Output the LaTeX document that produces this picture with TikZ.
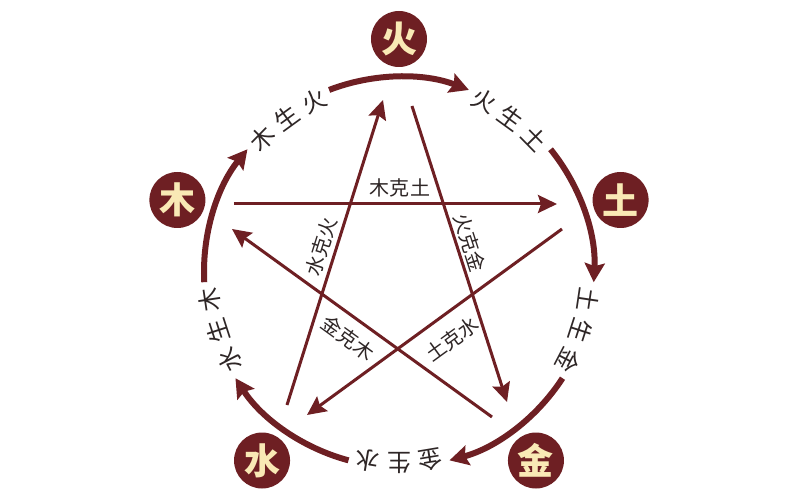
\documentclass[tikz,border=0pt]{standalone}
\usepackage{fontspec}
\newfontfamily\cjk{Noto Sans CJK SC}
\usetikzlibrary{calc}
\usetikzlibrary{arrows.meta}
\definecolor{wxred}{HTML}{6E1F23}
\definecolor{wxcream}{HTML}{F9E9B5}
\definecolor{wxtext}{HTML}{2E2626}
\tikzstyle{elnode} = [circle, fill=wxred, minimum size=56pt, inner sep=0pt, text=wxcream, font=\cjk\bfseries\fontsize{36}{36}\selectfont]
\tikzstyle{shengarc} = [draw=wxred, line width=6pt, -{Stealth[length=19pt, width=20pt, inset=3pt]}]
\tikzstyle{keline} = [draw=wxred, line width=3pt, -{Stealth[length=19pt, width=18pt, inset=3pt]}]
\tikzstyle{shenglabel} = [text=wxtext, inner sep=0pt, font=\cjk\fontsize{24}{24}\selectfont]
\tikzstyle{kelabel} = [text=wxtext, inner sep=0pt, font=\cjk\fontsize{20}{20}\selectfont]

\begin{document}
\begin{tikzpicture}[x=1pt, y=1pt]
    \path[use as bounding box, fill=white] (-399,-228) rectangle (409,272);

    \node[elnode] (huo) at (90:233) {火};
    \node[elnode] (tu) at (18:233) {土};
    \node[elnode] (jin) at (-54:233) {金};
    \node[elnode] (shui) at (-126:233) {水};
    \node[elnode] (mu) at (162:233) {木};

    \foreach \name/\e in {mu/162, huo/90, tu/18, jin/-54, shui/-126} {
        \coordinate (\name_arc) at ({\e+21}:195);
        \draw[shengarc] (\name_arc) arc[start angle={\e+21}, end angle={\e-21}, radius=195];
    }
    \foreach \name/\c/\from/\to in {mu/126/木/火, huo/54/火/土, tu/-18/土/金, jin/-90/金/水, shui/198/水/木} {
        \node[shenglabel, rotate={\c+9.5-90}] (\name_sa) at ({\c+9.5}:191) {\from};
        \node[shenglabel, rotate={\c-90}] (\name_sb) at (\c:191) {生};
        \node[shenglabel, rotate={\c-9.5-90}] (\name_sc) at ({\c-9.5}:191) {\to};
    }

    \coordinate (mu_ke_a) at (-165,68);
    \coordinate (mu_ke_b) at (158,68);
    \coordinate (huo_ke_a) at (13,166);
    \coordinate (huo_ke_b) at (108,-130);
    \coordinate (tu_ke_a) at (163,43);
    \coordinate (tu_ke_b) at (-92,-143);
    \coordinate (jin_ke_a) at (93,-145);
    \coordinate (jin_ke_b) at (-167,43);
    \coordinate (shui_ke_a) at (-112,-133);
    \coordinate (shui_ke_b) at (-16,172);
    \draw[keline] (mu_ke_a) -- (mu_ke_b);
    \draw[keline] (huo_ke_a) -- (huo_ke_b);
    \draw[keline] (tu_ke_a) -- (tu_ke_b);
    \draw[keline] (jin_ke_a) -- (jin_ke_b);
    \draw[keline] (shui_ke_a) -- (shui_ke_b);

    \node[kelabel] (mu_ke_lbl) at (1,84) {木克土};
    \node[kelabel, rotate=-72.2] (huo_ke_lbl) at (71,29) {火克金};
    \node[kelabel, rotate=36] (tu_ke_lbl) at (53,-67) {土克水};
    \node[kelabel, rotate=-36] (jin_ke_lbl) at (-51,-66) {金克木};
    \node[kelabel, rotate=72.5] (shui_ke_lbl) at (-78,25) {水克火};
\end{tikzpicture}
\end{document}
